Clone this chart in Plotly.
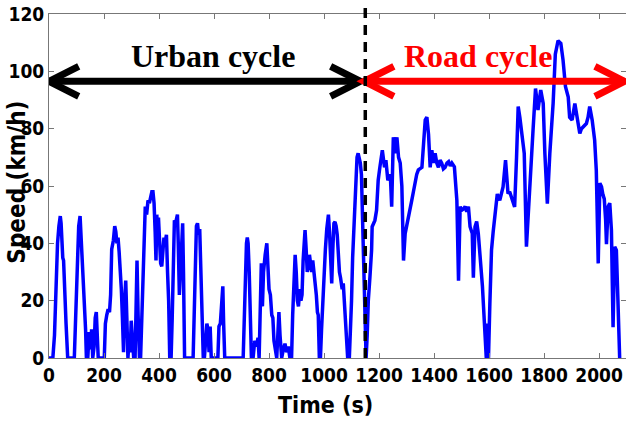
import plotly.graph_objects as go

# ---------------- data ----------------
time_s = [
    0, 14, 20, 26, 31, 36, 41, 44, 47, 50, 53, 56, 59, 62, 64, 66, 68, 92, 96, 100, 104, 108, 113, 116, 119, 122,
    126, 130, 133, 136, 141, 146, 150, 155, 159, 164, 168, 172, 175, 179, 201, 205, 210, 215, 220, 224, 228, 234,
    239, 243, 247, 251, 255, 259, 263, 267, 271, 275, 279, 283, 287, 291, 295, 299, 303, 308, 313, 317, 320, 324,
    329, 333, 337, 341, 345, 350, 355, 360, 365, 370, 374, 378, 382, 386, 389, 392, 395, 398, 402, 406, 410, 414,
    418, 422, 427, 431, 435, 439, 444, 448, 452, 456, 460, 464, 467, 470, 474, 478, 482, 486, 489, 493, 524, 528,
    532, 536, 540, 544, 548, 552, 556, 561, 565, 570, 574, 578, 582, 586, 590, 614, 618, 623, 628, 632, 635, 639,
    706, 710, 714, 718, 721, 724, 728, 732, 736, 742, 748, 754, 760, 764, 768, 772, 776, 780, 786, 792, 796, 800,
    805, 810, 814, 818, 828, 832, 836, 840, 846, 852, 858, 864, 870, 876, 882, 886, 890, 895, 899, 903, 907, 912,
    916, 920, 924, 928, 931, 935, 939, 943, 947, 951, 955, 959, 963, 967, 972, 976, 979, 983, 987, 991, 995, 1000,
    1005, 1010, 1016, 1020, 1024, 1028, 1032, 1036, 1040, 1044, 1048, 1052, 1056, 1060, 1066, 1070, 1074, 1078,
    1082, 1086, 1092, 1096, 1100, 1104, 1108, 1112, 1116, 1120, 1124, 1128, 1132, 1136, 1140, 1144, 1148, 1153,
    1157, 1161, 1167, 1173, 1175, 1180, 1185, 1191, 1197, 1203, 1212, 1220, 1225, 1232, 1241, 1246, 1252, 1259,
    1265, 1271, 1277, 1283, 1289, 1295, 1301, 1307, 1313, 1319, 1325, 1331, 1337, 1343, 1350, 1356, 1362, 1368,
    1374, 1380, 1386, 1392, 1398, 1404, 1410, 1416, 1422, 1428, 1434, 1440, 1447, 1453, 1459, 1465, 1474, 1483,
    1489, 1495, 1501, 1507, 1513, 1519, 1525, 1531, 1539, 1543, 1549, 1555, 1561, 1566, 1571, 1576, 1580, 1586,
    1590, 1594, 1598, 1603, 1609, 1615, 1621, 1630, 1639, 1645, 1651, 1660, 1669, 1675, 1681, 1687, 1693, 1700,
    1706, 1712, 1718, 1728, 1736, 1742, 1748, 1754, 1760, 1769, 1778, 1788, 1797, 1803, 1812, 1821, 1827, 1833,
    1841, 1851, 1861, 1869, 1878, 1888, 1893, 1902, 1912, 1922, 1930, 1936, 1942, 1948, 1954, 1960, 1966, 1975,
    1984, 1990, 1997, 2003, 2009, 2014, 2019, 2024, 2027, 2033, 2039, 2045, 2051, 2057, 2063, 2069, 2075, 2080,
]
speed_kmh = [
    0, 0, 8, 28, 40, 46, 49.5, 47, 39, 35, 34, 24, 14, 12, 8, 4, 0, 0, 12, 26, 40, 46, 49.5, 44, 37, 34,
    25, 15, 10, 0, 0, 9, 3, 10, 0, 4, 14, 16, 6, 0, 0, 12, 15, 17, 16, 22, 38, 41,
    46, 44, 40, 42, 37, 32, 24, 14, 2, 20, 27, 14, 0, 6, 2, 13, 8, 0, 0, 22, 34, 15,
    0, 0, 14, 21, 38, 52.8, 50, 55, 54, 56, 58, 58, 54, 44, 34, 50, 42, 49, 42, 33, 32, 38,
    42, 40, 43, 30, 20, 0, 0, 14, 40, 48, 47, 49, 50, 40, 22, 30, 40, 47, 30, 0, 0, 20,
    35, 46, 47, 43, 45, 28, 14, 0, 0, 6, 12, 10, 2, 11, 0, 0, 11, 12, 18, 25, 12, 0,
    0, 15, 30, 40, 42, 40, 30, 15, 0, 0, 6, 4, 7, 0, 12, 33, 18, 30, 36, 40, 32, 24,
    22, 15, 14, 6, 0, 10, 16, 8, 0, 3, 5, 2, 4, 0, 0, 15, 28, 36, 30, 20, 18, 24,
    20, 22, 34, 40, 44.6, 38, 30, 32, 36, 33, 30, 34, 30, 29, 22, 16, 15, 0, 0, 10, 20, 26,
    38, 45, 50, 44, 30, 26, 38, 47, 47.5, 46, 43, 36, 30, 28, 24, 26, 20, 15,
    5, 0, 0, 8, 20, 35, 44, 55, 65, 70, 71.4, 70, 68, 64, 48, 25, 10, 0,
    8, 20, 28.4, 37.7, 45.8, 47, 48, 51.5, 62, 66.5, 72.5, 66.5, 69, 62, 64, 52.8, 77, 71.4,
    77, 70, 68, 60, 34, 43.4, 46, 49, 52, 55, 58, 62, 64, 65.6, 66, 66.5, 74.8, 83,
    84, 78, 66.5, 72.5, 68, 71.4, 68, 66.5, 69, 68, 66, 66.5, 68, 68.5, 67, 68, 66.7, 55,
    27, 52.8, 51.6, 52, 52.8, 51, 52.8, 45.8, 43.4, 28, 45.8, 47.6, 43.4, 38, 32, 25, 17.8, 8.4,
    0, 12, 0, 19, 37.6, 44, 49, 57.2, 55, 57, 59.7, 69, 57.3, 58, 56, 54, 52.7, 70,
    87.7, 84, 79.5, 71.4, 38.8, 50, 59.7, 70, 79.5, 94, 86.5, 93.5, 88.8, 71.4, 53.8, 71.4, 80, 88.8,
    106, 110.7, 109.8, 104, 94.6, 91, 84, 83, 88.8, 83, 78.3, 80, 80.7, 81, 81.8, 84, 87.7, 83,
    76, 65.4, 33, 61, 59.7, 57, 55.5, 48, 39.7, 52.8, 54, 44.6, 10.7, 38.8, 37.6, 19, 0, 0,
]

x_ticks = [0, 200, 400, 600, 800, 1000, 1200, 1400, 1600, 1800, 2000]
y_ticks = [0, 20, 40, 60, 80, 100, 120]
x_range = [0, 2098]
y_range = [0, 120]

split_time = 1150       # boundary between urban and road cycles
arrow_speed = 96.5      # level of the double arrows
black_arrow = [0, 1132]
red_arrow = [1146, 2093]
head_dt = 108           # chevron length along time
head_dv = 5.2           # chevron half-height along speed

fig = go.Figure()
fig.add_trace(go.Scatter(
    x=time_s, y=speed_kmh, mode="lines",
    line=dict(color="#0000FF", width=3.5),
    showlegend=False, hoverinfo="skip",
))


def double_arrow(x0, x1, color):
    shp = []
    shp.append(dict(type="line", xref="x", yref="y", x0=x0, x1=x1, y0=arrow_speed, y1=arrow_speed,
                    line=dict(color=color, width=7)))
    p_left = (f"M {x0 + head_dt},{arrow_speed + head_dv} L {x0},{arrow_speed} "
              f"L {x0 + head_dt},{arrow_speed - head_dv}")
    p_right = (f"M {x1 - head_dt},{arrow_speed + head_dv} L {x1},{arrow_speed} "
               f"L {x1 - head_dt},{arrow_speed - head_dv}")
    for p in (p_left, p_right):
        shp.append(dict(type="path", xref="x", yref="y", path=p, line=dict(color=color, width=7)))
    return shp


shapes = []
shapes += double_arrow(black_arrow[0], black_arrow[1], "black")
shapes += double_arrow(red_arrow[0], red_arrow[1], "#FF0000")
shapes.append(dict(type="line", xref="x", yref="paper", x0=split_time, x1=split_time, y0=0, y1=1.026,
                   line=dict(color="black", width=3.5, dash="10px,7px")))

sans = "Liberation Sans Narrow, DejaVu Sans Condensed, Arial Narrow, sans-serif"
tick_font = dict(family=sans, size=19, color="black", weight="bold")

fig.update_layout(
    width=626, height=428,
    margin=dict(l=49, r=0, t=14, b=70),
    paper_bgcolor="white", plot_bgcolor="white",
    shapes=shapes,
    xaxis=dict(range=x_range, tickvals=x_ticks, ticktext=[str(v) for v in x_ticks],
               ticks="inside", ticklen=5, tickcolor="#777", showline=True, linecolor="#777",
               linewidth=1, mirror="ticks", showgrid=False, zeroline=False, tickfont=tick_font),
    yaxis=dict(range=y_range, tickvals=y_ticks, ticktext=[str(v) for v in y_ticks],
               ticks="inside", ticklen=5, tickcolor="#777", showline=True, linecolor="#777",
               linewidth=1, mirror="ticks", showgrid=False, zeroline=False, tickfont=tick_font),
    annotations=[
        dict(text="<b>Speed (km/h)</b>", xref="paper", yref="paper", x=-0.057, y=0.51,
             textangle=-90, showarrow=False, xanchor="center", yanchor="middle",
             font=dict(family=sans, size=24, color="black")),
        dict(text="<b>Time (s)</b>", xref="paper", yref="paper", x=0.48, y=-0.137,
             showarrow=False, xanchor="center", yanchor="middle",
             font=dict(family=sans, size=23, color="black")),
        dict(text="<b>Urban cycle</b>", xref="x", yref="y", x=595, y=105.5,
             showarrow=False, xanchor="center", yanchor="middle",
             font=dict(family="Liberation Serif, DejaVu Serif, serif", size=32, color="black")),
        dict(text="<b>Road cycle</b>", xref="x", yref="y", x=1560, y=105.5,
             showarrow=False, xanchor="center", yanchor="middle",
             font=dict(family="Liberation Serif, DejaVu Serif, serif", size=32, color="#FF0000")),
    ],
)

fig.write_html("out.html")
